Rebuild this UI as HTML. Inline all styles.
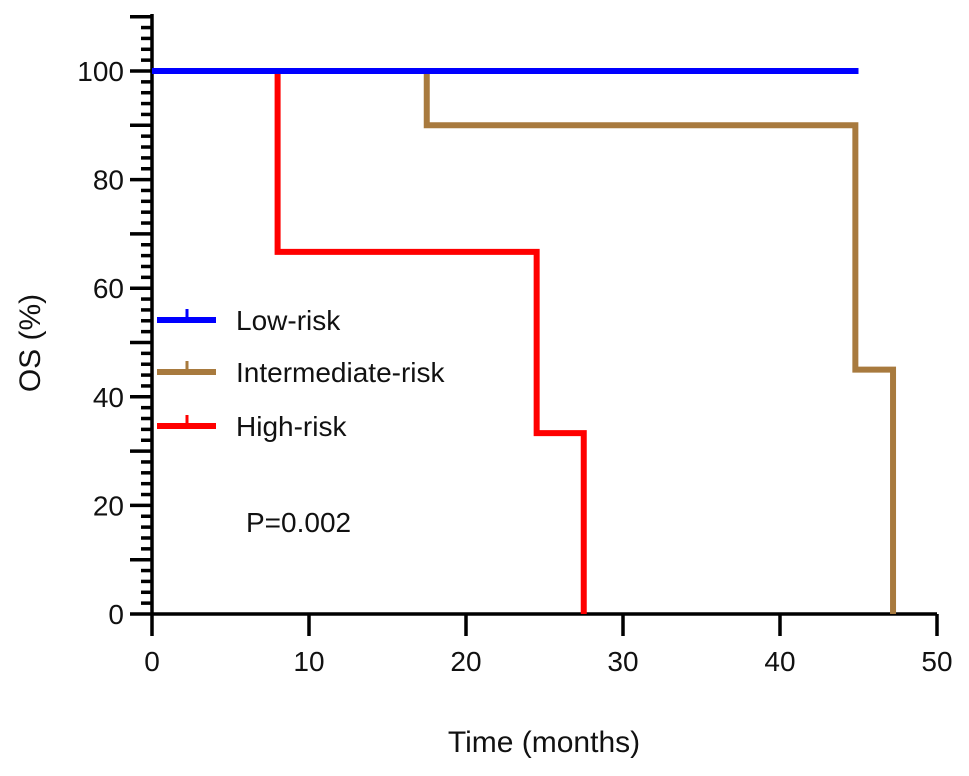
<!DOCTYPE html>
<html><head><meta charset="utf-8"><style>
body{margin:0;background:#fff;}
svg text{font-family:"Liberation Sans",Arial,sans-serif;fill:#111;}
</style></head><body>
<svg id="chart" width="969" height="771" viewBox="0 0 969 771" xmlns="http://www.w3.org/2000/svg">
<g id="axes"></g><g id="series"></g><g id="legend"></g>
<text x="246" y="532" font-size="28">P=0.002</text>
<text x="544" y="752" font-size="30" text-anchor="middle">Time (months)</text>
<text transform="translate(40,343) rotate(-90)" font-size="30" text-anchor="middle">OS (%)</text>
</svg>
<script>
const xTicks=[0,10,20,30,40,50];
const yTicks=[0,20,40,60,80,100];
const seriesNames=["Low-risk","Intermediate-risk","High-risk"];
const seriesColors=["#0000ff","#a87a3e","#ff0000"];
const lowT=[0,45];
const lowS=[100,100];
const intT=[0,17.5,44.8,47.2];
const intS=[100,90,45,0];
const highT=[0,8,24.5,27.5];
const highS=[100,66.7,33.3,0];
const X=v=>152+v*15.7;
const Y=v=>614-v*5.43;
const NS="http://www.w3.org/2000/svg";
function mk(tag,attrs,parent){const e=document.createElementNS(NS,tag);for(const k in attrs)e.setAttribute(k,attrs[k]);parent.appendChild(e);return e;}
const axes=document.getElementById('axes');
let a=mk('line',{x1:X(0),y1:Y(0),x2:X(50),y2:Y(0),stroke:'#000','stroke-width':3.5},axes);


a=mk('line',{x1:X(0),y1:Y(0)+1,x2:X(0),y2:Y(110.5),stroke:'#000','stroke-width':3.5},axes);


for(let v=0;v<=110;v+=2){const t=mk('line',{x1:X(0)-(v%10===0?22:11),y1:Y(v),x2:X(0),y2:Y(v),stroke:'#000','stroke-width':3.5},axes);

}
yTicks.forEach(v=>{const t=mk('text',{x:X(0)-28,y:Y(v)+10,'font-size':28,'text-anchor':'end'},axes);t.textContent=v;

});
xTicks.forEach(v=>{const l=mk('line',{x1:X(v),y1:Y(0),x2:X(v),y2:Y(0)+22,stroke:'#000','stroke-width':3.5},axes);


const t=mk('text',{x:X(v),y:Y(0)+57,'font-size':28,'text-anchor':'middle'},axes);t.textContent=v;

});
const ser=document.getElementById('series');
function step(T,S,end){let d=`M${X(T[0])},${Y(S[0])}`;for(let i=1;i<T.length;i++){d+=` H${X(T[i])} V${Y(S[i])}`;}if(end!==undefined)d+=` H${X(end)}`;return d;}
const data=[[lowT,lowS,45],[intT,intS,undefined],[highT,highS,undefined]];
const order=[1,2,0];
order.forEach(i=>{const [T,S,e]=data[i];const p=mk('path',{d:step(T,S,e),fill:'none',stroke:seriesColors[i],'stroke-width':6,'stroke-linejoin':'miter'},ser);

});
const leg=document.getElementById('legend');
seriesNames.forEach((n,i)=>{const y=[320,372,426][i];
const g=mk('g',{},leg);


mk('line',{x1:157,y1:y,x2:216,y2:y,stroke:seriesColors[i],'stroke-width':6},g);
mk('line',{x1:187,y1:y,x2:187,y2:y-11,stroke:seriesColors[i],'stroke-width':3},g);
const t=mk('text',{x:236,y:y+10,'font-size':28},g);t.textContent=n;});
</script>
</body></html>
